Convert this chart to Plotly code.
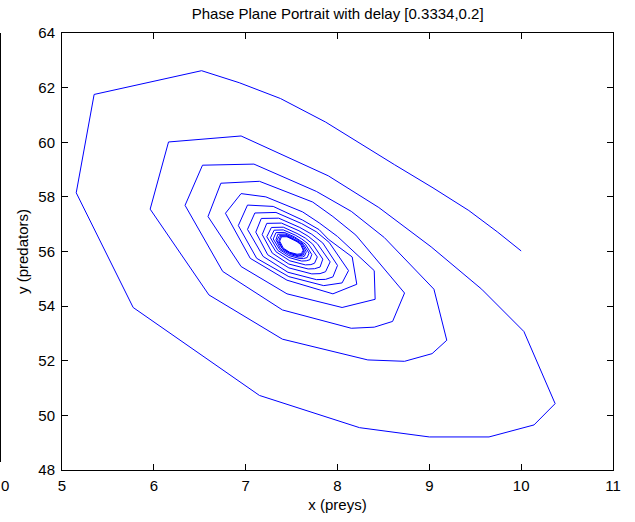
import plotly.graph_objects as go

# Phase-plane trajectory (prey x, predator y) of the delayed predator-prey model
x_prey = [
    10.00, 9.74, 9.43, 9.04, 8.62, 7.87, 7.38, 6.93, 6.52, 5.35, 5.155, 5.775, 7.15, 8.24, 9.00, 9.65, 10.14, 10.37, 10.03, 9.57,
    9.02, 8.45, 7.90, 6.95, 6.16, 5.96, 6.60, 7.40, 8.33, 8.73, 9.03, 9.19, 9.05,
    8.51, 8.15, 7.77, 7.09, 6.53, 6.34, 6.75, 7.40, 8.15, 8.40, 8.60, 8.73,
    8.20, 7.95, 7.73, 7.15, 6.73, 6.59, 6.95, 7.45, 8.05, 8.41, 8.40,
    8.00, 7.80, 7.62, 7.22, 6.95, 6.78, 7.05, 7.45, 7.95, 8.21, 8.16,
    7.90, 7.80, 7.62, 7.30, 7.02, 6.92, 7.12, 7.47, 7.85, 8.05, 8.12,
    7.91, 7.77, 7.61, 7.33, 7.10, 7.02, 7.19, 7.46, 7.77, 7.87, 7.95, 8.00,
    7.84, 7.72, 7.59, 7.36, 7.17, 7.11, 7.24, 7.47, 7.72, 7.81, 7.87, 7.92,
    7.78, 7.68, 7.58, 7.39, 7.23, 7.18, 7.29, 7.47, 7.68, 7.75, 7.81, 7.84,
    7.73, 7.65, 7.56, 7.41, 7.28, 7.23, 7.33, 7.48, 7.65, 7.71, 7.75, 7.78,
    7.68, 7.61, 7.54, 7.41, 7.31, 7.27, 7.35, 7.47, 7.61, 7.66, 7.70, 7.72,
    7.65, 7.59, 7.53, 7.42, 7.33, 7.30, 7.37, 7.47, 7.59, 7.63, 7.67, 7.69,
    7.63, 7.58, 7.53, 7.43, 7.35, 7.33, 7.38, 7.48, 7.58, 7.62, 7.64, 7.66,
    7.62, 7.57, 7.52, 7.44, 7.37, 7.34, 7.40, 7.48, 7.57, 7.60, 7.63, 7.64,
    7.61, 7.56, 7.52, 7.44, 7.38, 7.36, 7.40, 7.48, 7.56, 7.59, 7.62, 7.63,
    7.60, 7.56, 7.52, 7.45, 7.39, 7.37, 7.41, 7.48, 7.56, 7.59, 7.61, 7.62,
]
y_pred = [
    56.02, 56.72, 57.50, 58.33, 59.18, 60.74, 61.60, 62.18, 62.62, 61.75, 58.15, 53.95, 50.73, 49.55, 49.21, 49.21, 49.65, 50.43, 53.07, 54.62,
    56.17, 57.61, 58.77, 60.23, 60.01, 57.55, 54.41, 52.79, 52.03, 51.98, 52.26, 52.75, 54.62,
    56.51, 57.47, 58.20, 59.20, 59.16, 57.69, 55.27, 53.86, 53.19, 53.23, 53.44, 54.48,
    56.60, 57.28, 57.81, 58.57, 58.50, 57.28, 55.45, 54.45, 53.95, 54.25, 55.30,
    56.55, 57.05, 57.45, 58.00, 58.12, 57.40, 55.75, 54.95, 54.45, 54.80, 55.80,
    56.45, 56.80, 57.15, 57.65, 57.70, 56.95, 55.75, 55.08, 54.75, 54.85, 55.30,
    56.33, 56.72, 57.02, 57.43, 57.41, 56.81, 55.82, 55.24, 54.97, 54.98, 55.07, 55.49,
    56.31, 56.63, 56.88, 57.22, 57.21, 56.71, 55.88, 55.40, 55.18, 55.19, 55.26, 55.62,
    56.29, 56.56, 56.76, 57.04, 57.03, 56.62, 55.94, 55.54, 55.36, 55.37, 55.43, 55.72,
    56.27, 56.49, 56.66, 56.89, 56.88, 56.54, 55.99, 55.66, 55.51, 55.52, 55.57, 55.80,
    56.28, 56.46, 56.60, 56.79, 56.78, 56.50, 56.04, 55.78, 55.65, 55.66, 55.70, 55.89,
    56.27, 56.42, 56.54, 56.70, 56.69, 56.46, 56.07, 55.85, 55.74, 55.74, 55.78, 55.94,
    56.26, 56.40, 56.50, 56.64, 56.63, 56.43, 56.09, 55.89, 55.80, 55.80, 55.83, 55.98,
    56.26, 56.38, 56.47, 56.60, 56.59, 56.41, 56.10, 55.93, 55.84, 55.85, 55.87, 56.00,
    56.25, 56.37, 56.45, 56.57, 56.56, 56.39, 56.11, 55.95, 55.87, 55.88, 55.90, 56.02,
    56.25, 56.36, 56.43, 56.54, 56.54, 56.38, 56.12, 55.97, 55.90, 55.90, 55.92, 56.03,
]

x_ticks = [5, 6, 7, 8, 9, 10, 11]
y_ticks = [48, 50, 52, 54, 56, 58, 60, 62, 64]

FONT = "Liberation Sans, Arial, Helvetica, sans-serif"

fig = go.Figure()
fig.add_trace(go.Scatter(
    x=x_prey, y=y_pred, mode="lines",
    line=dict(color="#0000ff", width=1),
    showlegend=False, hoverinfo="skip",
))

axis_common = dict(
    showline=True, linecolor="black", linewidth=1, mirror="ticks",
    ticks="inside", ticklen=6, tickcolor="black", tickwidth=1,
    showgrid=False, zeroline=False,
    tickfont=dict(family=FONT, size=15, color="black"),
)

fig.update_layout(
    width=635, height=522,
    margin=dict(l=62, r=22, t=33, b=52),
    paper_bgcolor="white", plot_bgcolor="white",
    title=dict(text="Phase Plane Portrait with delay [0.3334,0.2]",
               x=0.5318, xanchor="center", y=0.974, yanchor="middle",
               font=dict(family=FONT, size=15, color="black")),
    xaxis=dict(range=[5, 11], tickvals=x_ticks, ticklabelstandoff=2,
               title=dict(text="x (preys)", standoff=6,
                          font=dict(family=FONT, size=15, color="black")),
               **axis_common),
    yaxis=dict(range=[48, 64], tickvals=y_ticks, ticklabelstandoff=3,
               title=dict(text="y (predators)", standoff=6,
                          font=dict(family=FONT, size=15, color="black")),
               **axis_common),
)

# Edge of the neighbouring axes on the left side of the figure
fig.add_shape(type="line", xref="paper", yref="paper",
              x0=-0.11162, x1=-0.11162, y0=0.0183, y1=1.0,
              line=dict(color="black", width=1))
fig.add_annotation(text="0", xref="paper", yref="paper",
                   x=-0.103, y=-0.012, xanchor="center", yanchor="top",
                   showarrow=False,
                   font=dict(family=FONT, size=15, color="black"))

fig.write_html("out.html")
